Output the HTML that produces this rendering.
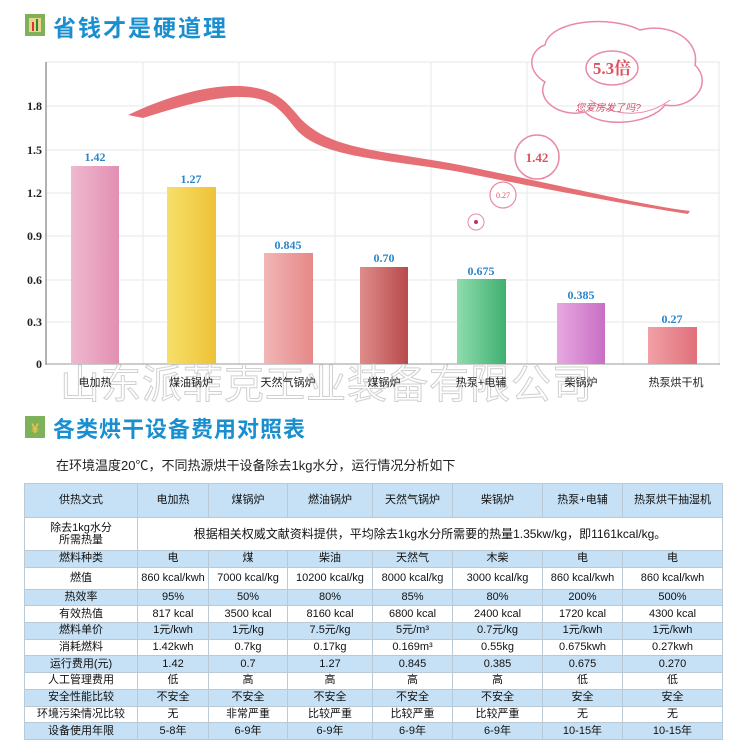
<!DOCTYPE html>
<html><head><meta charset="utf-8"><style>
body{margin:0;width:750px;height:750px;background:#fff;overflow:hidden;font-family:"Liberation Sans","Noto Sans CJK SC",sans-serif;}
svg{position:absolute;left:0;top:0}
table{position:absolute;left:24px;top:483px;border-collapse:collapse;font-size:11px;color:#111;}
td{border:1px solid #b9c9d6;text-align:center;padding:0;height:15.7px;line-height:15px;white-space:nowrap;overflow:hidden}
tr.b td{background:#c6e1f5}
tr.w td{background:#fff}
</style></head><body>
<svg width="750" height="480" font-family="'Liberation Sans','Noto Sans CJK SC',sans-serif">
<rect x="25" y="14" width="20" height="22" fill="#7fb05a"/><rect x="29" y="18" width="12" height="14" fill="#e9d58a"/>
<rect x="32" y="22" width="2" height="9" fill="#d33"/><rect x="36" y="19" width="2" height="12" fill="#2a8a3a"/>
<text x="53" y="36" font-size="23" font-weight="bold" fill="#1a8fd0" letter-spacing="2">省钱才是硬道理</text>
<g stroke="#e6e8ea" stroke-width="1">
<line x1="46" y1="62" x2="720" y2="62"/><line x1="46" y1="106" x2="720" y2="106"/><line x1="46" y1="150" x2="720" y2="150"/>
<line x1="46" y1="193" x2="720" y2="193"/><line x1="46" y1="236" x2="720" y2="236"/><line x1="46" y1="280" x2="720" y2="280"/>
<line x1="46" y1="322" x2="720" y2="322"/>
<line x1="143" y1="62" x2="143" y2="364"/><line x1="239" y1="62" x2="239" y2="364"/><line x1="335" y1="62" x2="335" y2="364"/>
<line x1="431" y1="62" x2="431" y2="364"/><line x1="527" y1="62" x2="527" y2="364"/><line x1="623" y1="62" x2="623" y2="364"/><line x1="719" y1="62" x2="719" y2="364"/>
</g>
<line x1="46" y1="62" x2="46" y2="365" stroke="#666"/><line x1="46" y1="364" x2="720" y2="364" stroke="#999"/>
<g font-family="'Liberation Serif',serif" font-weight="bold" font-size="12" fill="#222" text-anchor="end">
<text x="42" y="110">1.8</text><text x="42" y="154">1.5</text><text x="42" y="197">1.2</text><text x="42" y="240">0.9</text>
<text x="42" y="284">0.6</text><text x="42" y="326">0.3</text><text x="42" y="368">0</text></g>
<defs>
<linearGradient id="g1"><stop offset="0" stop-color="#efb9cf"/><stop offset="1" stop-color="#e28fb2"/></linearGradient>
<linearGradient id="g2"><stop offset="0" stop-color="#f6e06a"/><stop offset="1" stop-color="#eec236"/></linearGradient>
<linearGradient id="g3"><stop offset="0" stop-color="#f2b6b6"/><stop offset="1" stop-color="#e68888"/></linearGradient>
<linearGradient id="g4"><stop offset="0" stop-color="#e08c8c"/><stop offset="1" stop-color="#b84a4a"/></linearGradient>
<linearGradient id="g5"><stop offset="0" stop-color="#8fdcae"/><stop offset="1" stop-color="#3fb070"/></linearGradient>
<linearGradient id="g6"><stop offset="0" stop-color="#e7a8e0"/><stop offset="1" stop-color="#c96ec4"/></linearGradient>
<linearGradient id="g7"><stop offset="0" stop-color="#f1a0a6"/><stop offset="1" stop-color="#e0707a"/></linearGradient>
</defs>
<rect x="71" y="166" width="48" height="198" fill="url(#g1)"/>
<rect x="167" y="187" width="49" height="177" fill="url(#g2)"/>
<rect x="264" y="253" width="49" height="111" fill="url(#g3)"/>
<rect x="360" y="267" width="48" height="97" fill="url(#g4)"/>
<rect x="457" y="279" width="49" height="85" fill="url(#g5)"/>
<rect x="557" y="303" width="48" height="61" fill="url(#g6)"/>
<rect x="648" y="327" width="49" height="37" fill="url(#g7)"/>
<g font-family="'Liberation Serif',serif" font-weight="bold" font-size="12" fill="#2a86c8" text-anchor="middle">
<text x="95" y="161">1.42</text><text x="191" y="183">1.27</text><text x="288" y="249">0.845</text><text x="384" y="262">0.70</text>
<text x="481" y="275">0.675</text><text x="581" y="299">0.385</text><text x="672" y="323">0.27</text></g>
<text x="60" y="398" font-size="40" fill="#fff" stroke="#d0d0d0" stroke-width="1" letter-spacing="1">山东派菲克工业装备有限公司</text>
<g font-size="11" fill="#222" text-anchor="middle">
<text x="95" y="386">电加热</text><text x="191" y="386">煤油锅炉</text><text x="288" y="386">天然气锅炉</text><text x="384" y="386">煤锅炉</text>
<text x="481" y="386">热泵+电辅</text><text x="581" y="386">柴锅炉</text><text x="676" y="386">热泵烘干机</text></g>
<path d="M128,115 C170,95 210,85 240,86 C275,88 285,100 300,118 C330,150 380,150 460,165 C560,185 640,205 690,211 L688,214 C630,205 560,192 460,172 C380,158 320,158 295,128 C280,108 270,97 240,97 C210,97 175,108 143,118 Z" fill="#e66f76"/>
<path d="M545,45 C550,20 610,15 640,30 C670,22 700,40 695,65 C715,85 690,110 665,105 C650,125 600,128 585,112 C560,118 535,100 545,82 C525,70 530,50 545,45 Z" fill="none" stroke="#e98aa4" stroke-width="1.5"/>
<path d="M590,100 C620,120 650,115 670,100" fill="none" stroke="#e98aa4"/>
<ellipse cx="612" cy="68" rx="26" ry="17" fill="none" stroke="#e98aa4" stroke-width="1.5"/>
<text x="612" y="74" text-anchor="middle" font-size="17" font-weight="bold" fill="#e05060" font-family="'Liberation Serif','Noto Serif CJK SC',serif">5.3倍</text>
<text x="608" y="111" text-anchor="middle" font-size="10" fill="#d05070" font-style="italic">您爱房发了吗?</text>
<circle cx="537" cy="157" r="22" fill="#fff" stroke="#e98aa4" stroke-width="1.5"/>
<text x="537" y="162" text-anchor="middle" font-size="13" font-weight="bold" fill="#e05060" font-family="'Liberation Serif',serif">1.42</text>
<circle cx="503" cy="195" r="13" fill="#fff" stroke="#e98aa4" stroke-width="1.2"/>
<text x="503" y="198" text-anchor="middle" font-size="8" fill="#e05060" font-family="'Liberation Serif',serif">0.27</text>
<circle cx="476" cy="222" r="8" fill="#fff" stroke="#e98aa4"/><circle cx="476" cy="222" r="2" fill="#c03060"/>
<rect x="25" y="416" width="20" height="22" fill="#7fb05a"/><text x="35" y="433" text-anchor="middle" font-size="14" font-weight="bold" fill="#e9c54a">¥</text>
<text x="53" y="437" font-size="22" font-weight="bold" fill="#1a8fd0" letter-spacing="1">各类烘干设备费用对照表</text>
<text x="56" y="470" font-size="13" fill="#222">在环境温度20℃，不同热源烘干设备除去1kg水分，运行情况分析如下</text>
</svg>
<table>
<colgroup><col style="width:113px"><col style="width:71px"><col style="width:79px"><col style="width:85px"><col style="width:80px"><col style="width:90px"><col style="width:80px"><col style="width:100px"></colgroup>
<tr class="b"><td style="height:33px">供热文式</td><td>电加热</td><td>煤锅炉</td><td>燃油锅炉</td><td>天然气锅炉</td><td>柴锅炉</td><td>热泵+电辅</td><td>热泵烘干抽湿机</td></tr>
<tr class="w"><td style="height:32px;line-height:12px">除去1kg水分<br>所需热量</td><td colspan="7" style="font-size:12px">根据相关权威文献资料提供，平均除去1kg水分所需要的热量1.35kw/kg，即1161kcal/kg。</td></tr>
<tr class="b"><td>燃料种类</td><td>电</td><td>煤</td><td>柴油</td><td>天然气</td><td>木柴</td><td>电</td><td>电</td></tr>
<tr class="w"><td style="height:21px">燃值</td><td>860 kcal/kwh</td><td>7000 kcal/kg</td><td>10200 kcal/kg</td><td>8000 kcal/kg</td><td>3000 kcal/kg</td><td>860 kcal/kwh</td><td>860 kcal/kwh</td></tr>
<tr class="b"><td>热效率</td><td>95%</td><td>50%</td><td>80%</td><td>85%</td><td>80%</td><td>200%</td><td>500%</td></tr>
<tr class="w"><td>有效热值</td><td>817 kcal</td><td>3500 kcal</td><td>8160 kcal</td><td>6800 kcal</td><td>2400 kcal</td><td>1720 kcal</td><td>4300 kcal</td></tr>
<tr class="b"><td>燃料单价</td><td>1元/kwh</td><td>1元/kg</td><td>7.5元/kg</td><td>5元/m³</td><td>0.7元/kg</td><td>1元/kwh</td><td>1元/kwh</td></tr>
<tr class="w"><td>消耗燃料</td><td>1.42kwh</td><td>0.7kg</td><td>0.17kg</td><td>0.169m³</td><td>0.55kg</td><td>0.675kwh</td><td>0.27kwh</td></tr>
<tr class="b"><td>运行费用(元)</td><td>1.42</td><td>0.7</td><td>1.27</td><td>0.845</td><td>0.385</td><td>0.675</td><td>0.270</td></tr>
<tr class="w"><td>人工管理费用</td><td>低</td><td>高</td><td>高</td><td>高</td><td>高</td><td>低</td><td>低</td></tr>
<tr class="b"><td>安全性能比较</td><td>不安全</td><td>不安全</td><td>不安全</td><td>不安全</td><td>不安全</td><td>安全</td><td>安全</td></tr>
<tr class="w"><td>环境污染情况比较</td><td>无</td><td>非常严重</td><td>比较严重</td><td>比较严重</td><td>比较严重</td><td>无</td><td>无</td></tr>
<tr class="b"><td>设备使用年限</td><td>5-8年</td><td>6-9年</td><td>6-9年</td><td>6-9年</td><td>6-9年</td><td>10-15年</td><td>10-15年</td></tr>
</table>
</body></html>
